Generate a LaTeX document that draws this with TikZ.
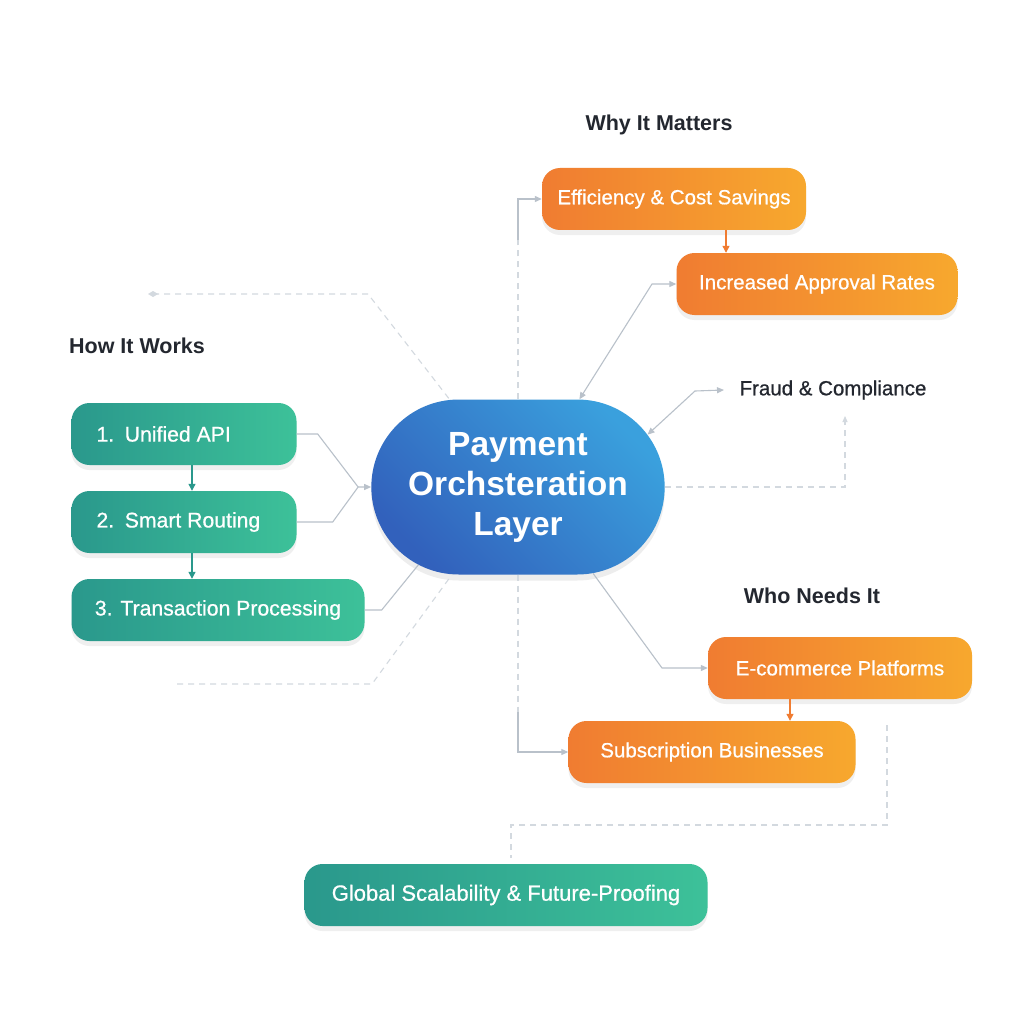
\documentclass[tikz,border=0pt]{standalone}
\usepackage{fontspec}
\setmainfont{Liberation Sans}
\setsansfont{Liberation Sans}
\newfontfamily\boxfont{Liberation Sans}[FakeBold=0.7]
\usetikzlibrary{arrows.meta,shadows,shapes.misc}

\definecolor{tealL}{HTML}{2A988C}
\definecolor{tealR}{HTML}{3DC199}
\definecolor{orgL}{HTML}{F07C31}
\definecolor{orgR}{HTML}{F7A82E}
\definecolor{hubL}{HTML}{3261BC}
\definecolor{hubR}{HTML}{3AA0DD}
\definecolor{ink}{HTML}{23272F}
\definecolor{wire}{HTML}{B9C1CA}
\definecolor{faint}{HTML}{D3D9DF}

\begin{document}
\begin{tikzpicture}[x=1pt,y=-1pt,font=\sffamily,
  box/.style={rounded corners=18pt, minimum height=62pt, text=white, font=\boxfont\fontsize{20.5}{24}\selectfont, drop shadow={opacity=0.12,shadow xshift=0pt,shadow yshift=-5pt}},
  workbox/.style={box, left color=tealL, right color=tealR, inner xsep=25pt, align=flush left, font=\boxfont\fontsize{21.2}{24}\selectfont},
  gainbox/.style={box, left color=orgL, right color=orgR, minimum width=#1},
  hub/.style={rounded rectangle, minimum width=300pt, minimum height=175pt, left color=hubL, right color=hubR, shading angle=135, text=white, align=center, font=\sffamily\bfseries\fontsize{33.5}{40}\selectfont, drop shadow={opacity=0.14,shadow xshift=0pt,shadow yshift=-6pt}},
  heading/.style={text=ink, font=\sffamily\bfseries\fontsize{21.5}{26}\selectfont},
  link/.style={draw=wire, line width=1.1pt, -{Triangle[length=7pt,width=6pt]}},
  guide/.style={draw=faint, line width=1.1pt, dash pattern=on 6pt off 5pt},
  flowT/.style={draw=tealL, line width=1.2pt, -{Triangle[length=7pt,width=7pt]}},
  flowO/.style={draw=orgL, line width=1.2pt, -{Triangle[length=7pt,width=7pt]}}]
\fill[white] (0,0) rectangle (1024,1024);
\useasboundingbox (0,0) rectangle (1024,1024);

% headings
\node[heading] (hwhy) at (659,125) {Why It Matters};
\node[heading] (hhow) at (137,346) {How It Works};
\node[heading] (hwho) at (812,596) {Who Needs It};

% centre
\node[hub] (hub) at (518,487) {Payment\\Orchsteration\\Layer};

% how it works
\node[workbox, text width=175pt] (api) at (184,434) {1.\enspace Unified API};
\node[workbox, text width=175pt] (route) at (184,522) {2.\enspace Smart Routing};
\node[workbox, minimum width=293pt, inner xsep=0pt] (proc) at (218,610) {3. Transaction Processing};
\node[box, left color=tealL, right color=tealR, minimum width=403pt, font=\boxfont\fontsize{22}{24}\selectfont] (glob) at (506,895) {Global Scalability \& Future-Proofing};

% why it matters
\node[gainbox=264pt] (eff) at (674,199) {Efficiency \& Cost Savings};
\node[gainbox=281pt] (inc) at (817,284) {Increased Approval Rates};
\node[text=ink, font=\boxfont\fontsize{20.5}{24}\selectfont] (fraud) at (833,390) {Fraud \& Compliance};

% who needs it
\node[gainbox=264pt] (ecom) at (840,668) {E-commerce Platforms};
\node[gainbox=287pt] (subs) at (712,752) {Subscription Businesses};

% step arrows
\draw[flowT] ([xshift=8pt]api.south) -- ([xshift=8pt]route.north);
\draw[flowT] ([xshift=8pt]route.south) -- ([xshift=8pt]route.south |- proc.north);
\draw[flowO] ([xshift=52pt]eff.south) -- ([xshift=52pt]eff.south |- inc.north);
\draw[flowO] ([xshift=-50pt]ecom.south) -- ([xshift=-50pt]ecom.south |- subs.north);

% links into the hub
\coordinate (join) at ([xshift=-13pt]hub.west);
\draw[link] (api.east) -- ++(21,0) -- (join) -- (hub.west);
\draw[draw=wire, line width=1.1pt] (route.east) -- ++(36,0) -- (join);
\draw[draw=wire, line width=1.1pt] (proc.east) -- ++(17,0) -- (hub.218);

% links out of the hub
\draw[link, {Triangle[length=7pt,width=6pt]}-{Triangle[length=7pt,width=6pt]}] (hub.55) -- (652,284) -- (inc.west);
\draw[link, {Triangle[length=7pt,width=6pt]}-{Triangle[length=7pt,width=6pt]}] (hub.22) -- (695,391) -- ([xshift=-12pt]fraud.west);
\draw[link] (hub.-49) -- (662,668) -- (ecom.west);
\draw[guide] (hub.north) -- (518,240);
\draw[link] (518,240) -- (hub.north |- eff.west) -- (eff.west);
\draw[guide] (hub.south) -- (518,712);
\draw[link] (518,712) -- (hub.south |- subs.west) -- (subs.west);

% faint guides
\draw[guide, -{Triangle[length=6pt,width=5pt]}] (hub.east) -- (845,487) -- (845,416);
\coordinate (tailL) at (153,294);
\fill[faint] (tailL) ++(-5,0) -- ++(5,-3) -- ++(5,3) -- ++(-5,3) -- cycle;
\draw[guide] (tailL) -- (368,294) -- (hub.128);
\coordinate (tailB) at (177,684);
\draw[guide] (tailB) -- (372,684) -- (hub.233);
\coordinate (tailR) at (887,725);
\draw[guide] (tailR) -- (887,825) -- (511,825) -- (511,858);
\end{tikzpicture}
\end{document}
